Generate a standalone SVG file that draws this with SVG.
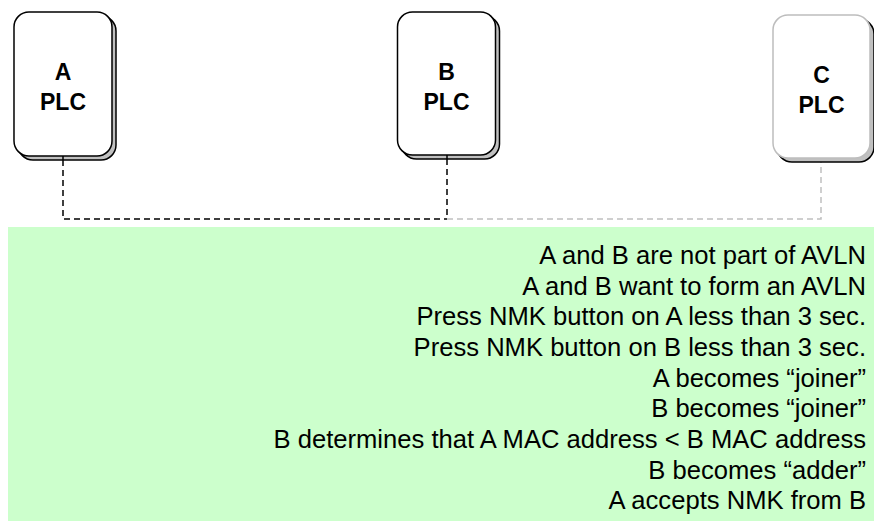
<svg xmlns="http://www.w3.org/2000/svg" width="874" height="521" viewBox="0 0 874 521">
<style>
.sh{fill:#c0c0c0;stroke:#000;stroke-width:1.5}
.fr{fill:#fff;stroke:#000;stroke-width:1.5}
.frg{fill:#fff;stroke:#bdbdbd;stroke-width:1.5}
.lbl{font-family:"Liberation Sans",Arial,sans-serif;font-weight:bold;font-size:23px;text-anchor:middle;fill:#000}
.txt{font-family:"Liberation Sans",Arial,sans-serif;font-size:25.6px;text-anchor:end;fill:#000}
.dk{fill:none;stroke:#000;stroke-width:1.5;stroke-dasharray:6 4}
.lt{fill:none;stroke:#c0c0c0;stroke-width:1.5;stroke-dasharray:6 4}
</style>
<rect x="8" y="227" width="866" height="294" fill="#ccffcc"/>
<g id="connectors">
<path class="dk" d="M63 160 V219 H447"/>
<path class="dk" d="M447 159 V219"/>
<path class="lt" d="M447 219 H821 V162"/>
</g>
<g id="nodeA">
<rect class="sh" x="18" y="16" width="98" height="144" rx="15"/>
<rect class="fr" x="14" y="12" width="98" height="144" rx="15"/>
<line x1="63" y1="156" x2="63" y2="160" stroke="#000" stroke-width="1.5"/>
<text class="lbl" x="63" y="80">A</text>
<text class="lbl" x="63" y="110">PLC</text>
</g>
<g id="nodeB">
<rect class="sh" x="401.5" y="16" width="98" height="143" rx="15"/>
<rect class="fr" x="397.5" y="12" width="98" height="143" rx="15"/>
<line x1="447" y1="155" x2="447" y2="159" stroke="#000" stroke-width="1.5"/>
<text class="lbl" x="446.5" y="80">B</text>
<text class="lbl" x="446.5" y="110">PLC</text>
</g>
<g id="nodeC">
<rect class="sh" x="777" y="19" width="97" height="143" rx="15"/>
<rect class="frg" x="773" y="15" width="97" height="143" rx="15"/>
<text class="lbl" x="821.5" y="83">C</text>
<text class="lbl" x="821.5" y="113">PLC</text>
</g>
<g id="notes">
<text class="txt" x="866" y="264">A and B are not part of AVLN</text>
<text class="txt" x="866" y="294.7">A and B want to form an AVLN</text>
<text class="txt" x="866" y="325.3">Press NMK button on A less than 3 sec.</text>
<text class="txt" x="866" y="356">Press NMK button on B less than 3 sec.</text>
<text class="txt" x="866" y="386.7">A becomes “joiner”</text>
<text class="txt" x="866" y="417.3">B becomes “joiner”</text>
<text class="txt" x="866" y="448">B determines that A MAC address &lt; B MAC address</text>
<text class="txt" x="866" y="478.7">B becomes “adder”</text>
<text class="txt" x="866" y="509.3">A accepts NMK from B</text>
</g>
</svg>
